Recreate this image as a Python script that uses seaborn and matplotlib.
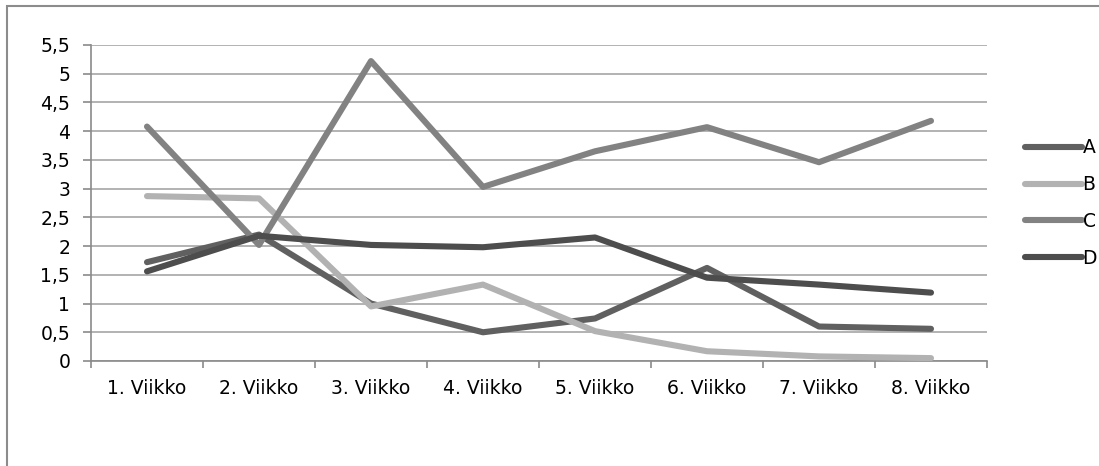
import numpy as np
import pandas as pd
import matplotlib
matplotlib.use("Agg")
import matplotlib.pyplot as plt
import seaborn as sns
from matplotlib.patches import Rectangle

weeks = ["1. Viikko", "2. Viikko", "3. Viikko", "4. Viikko",
         "5. Viikko", "6. Viikko", "7. Viikko", "8. Viikko"]
series_a = [1.72, 2.20, 1.00, 0.50, 0.74, 1.62, 0.60, 0.56]
series_b = [2.87, 2.83, 0.95, 1.33, 0.52, 0.17, 0.08, 0.05]
series_c = [4.08, 2.02, 5.22, 3.03, 3.65, 4.07, 3.46, 4.18]
series_d = [1.56, 2.18, 2.02, 1.98, 2.15, 1.45, 1.33, 1.19]
names = ["A", "B", "C", "D"]
colors = ["#606060", "#b2b2b2", "#828282", "#4d4d4d"]
y_ticks = [0, 0.5, 1, 1.5, 2, 2.5, 3, 3.5, 4, 4.5, 5, 5.5]
y_labels = ["0", "0,5", "1", "1,5", "2", "2,5", "3", "3,5", "4", "4,5", "5", "5,5"]

df = pd.DataFrame({"Viikko": weeks * 4,
                   "Arvo": series_a + series_b + series_c + series_d,
                   "Sarja": np.repeat(names, len(weeks))})

sns.set_style("white")
plt.rcParams['font.family'] = ['DejaVu Sans']
plt.rcParams['text.color'] = 'black'

fig = plt.figure(figsize=(10.99, 4.66), dpi=100)
ax = fig.add_axes([91 / 1099, 1 - 361 / 466, 896 / 1099, 316 / 466])

sns.lineplot(data=df, x="Viikko", y="Arvo", hue="Sarja", palette=colors,
             linewidth=4.4, solid_capstyle="round", solid_joinstyle="round",
             sort=False, ax=ax, zorder=3)

ax.set_xlim(-0.5, 7.5)
ax.set_ylim(0, 5.5)
ax.set_yticks(y_ticks)
ax.set_yticklabels(y_labels, fontsize=13.5, color="black")
ax.set_xticks(range(len(weeks)))
ax.set_xticklabels(weeks, fontsize=13.5, color="black")
ax.set_xticks(np.arange(-0.5, 8, 1), minor=True)
ax.tick_params(axis="x", which="major", bottom=True, length=0, pad=13)
ax.tick_params(axis="x", which="minor", bottom=True, length=5,
               color="#8a8a8a", width=1.2)
ax.tick_params(axis="y", left=True, length=6, color="#8a8a8a", width=1.2, pad=9)
ax.grid(axis="y", color="#a6a6a6", linewidth=1.2, zorder=0)
ax.set_xlabel("")
ax.set_ylabel("")
for s in ["top", "right"]:
    ax.spines[s].set_visible(False)
for s in ["left", "bottom"]:
    ax.spines[s].set_color("#8a8a8a")
    ax.spines[s].set_linewidth(1.2)

handles, labels = ax.get_legend_handles_labels()
leg = ax.legend(handles, labels, loc="center left",
                bbox_to_anchor=(1016 / 1099, 1 - 203 / 466),
                bbox_transform=fig.transFigure, frameon=False, fontsize=13.5,
                handlelength=3.0, handletextpad=0.05, labelspacing=0.95, borderpad=0)
for t in leg.get_texts():
    t.set_color("black")

fig.patches.append(Rectangle((7 / 1099, -0.1), 1.2, 1.1 - 6 / 466,
                             transform=fig.transFigure, fill=False,
                             edgecolor="#8c8c8c", linewidth=1.5))

fig.savefig("out.png", dpi=100)
